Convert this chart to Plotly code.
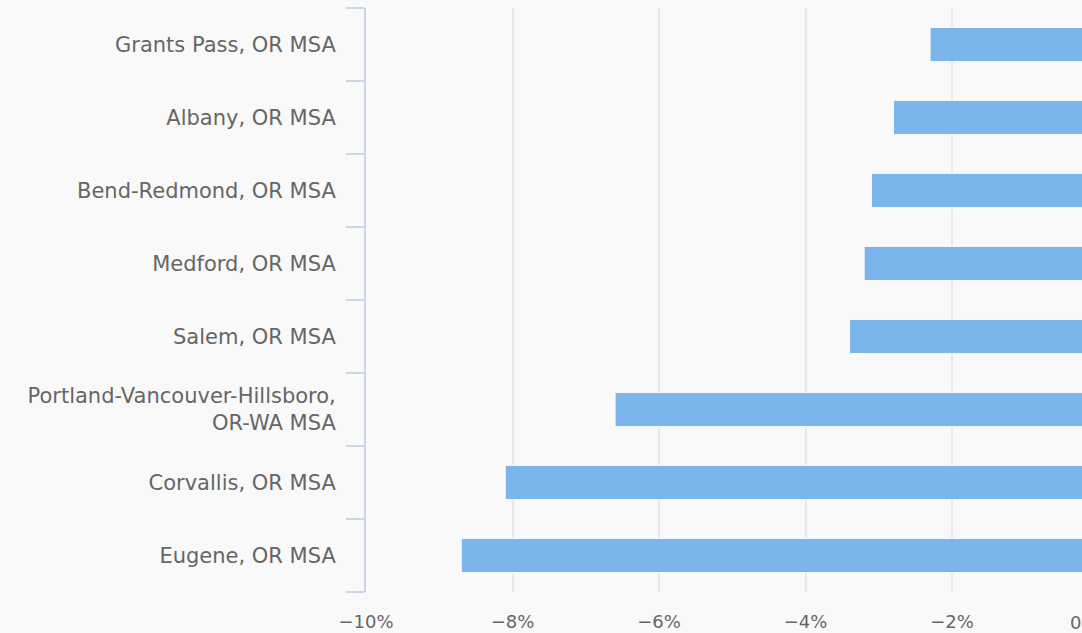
import plotly.graph_objects as go

categories = [
    "Grants Pass, OR MSA",
    "Albany, OR MSA",
    "Bend-Redmond, OR MSA",
    "Medford, OR MSA",
    "Salem, OR MSA",
    "Portland-Vancouver-Hillsboro,<br>OR-WA MSA",
    "Corvallis, OR MSA",
    "Eugene, OR MSA",
]
values = [-2.3, -2.8, -3.1, -3.2, -3.4, -6.6, -8.1, -8.7]
tick_vals = [-10, -8, -6, -4, -2]
tick_text = ["\u221210%", "\u22128%", "\u22126%", "\u22124%", "\u22122%"]
zero_label = "0%"

BG = "#f9f9f9"
W, H = 1082, 633
ML, MT, MB = 366, 8, 41
px_per_unit = 73.25
plot_w = W - ML
x_end = -10 + plot_w / px_per_unit

fig = go.Figure(
    go.Bar(
        x=values,
        y=categories,
        orientation="h",
        marker=dict(color="#7cb5ec", line=dict(color="#ffffff", width=1)),
        hoverinfo="x+y",
    )
)

fig.update_layout(
    width=W,
    height=H,
    margin=dict(l=ML, r=0, t=MT, b=MB, pad=0),
    paper_bgcolor=BG,
    plot_bgcolor=BG,
    bargap=0.53,
    showlegend=False,
    font=dict(family="DejaVu Sans", color="#666666"),
)

fig.update_xaxes(
    range=[-10, x_end],
    tickvals=tick_vals,
    ticktext=tick_text,
    showgrid=True,
    gridcolor="#e8e8e8",
    gridwidth=2,
    zeroline=False,
    showline=False,
    ticks="",
    tickfont=dict(size=18, color="#666666"),
    ticklabelstandoff=17,
)

fig.update_yaxes(
    categoryorder="array",
    categoryarray=categories[::-1],
    autorange=False,
    range=[-0.5, len(categories) - 0.5],
    showline=True,
    linecolor="#ccd6eb",
    linewidth=2,
    ticks="outside",
    tickson="boundaries",
    ticklen=18,
    tickwidth=2,
    tickcolor="#ccd6eb",
    showgrid=False,
    tickfont=dict(size=21, color="#666666"),
    ticklabelstandoff=24,
)

fig.add_annotation(
    x=(1101 - ML) / plot_w,
    xref="paper",
    y=0,
    yref="paper",
    yshift=-30,
    text=zero_label,
    showarrow=False,
    xanchor="right",
    yanchor="middle",
    font=dict(size=18, color="#666666", family="DejaVu Sans"),
)

fig.write_html(
    "out.html",
    config={"displayModeBar": False},
    post_script="document.body.style.margin='0';document.body.style.overflow='hidden';",
)
